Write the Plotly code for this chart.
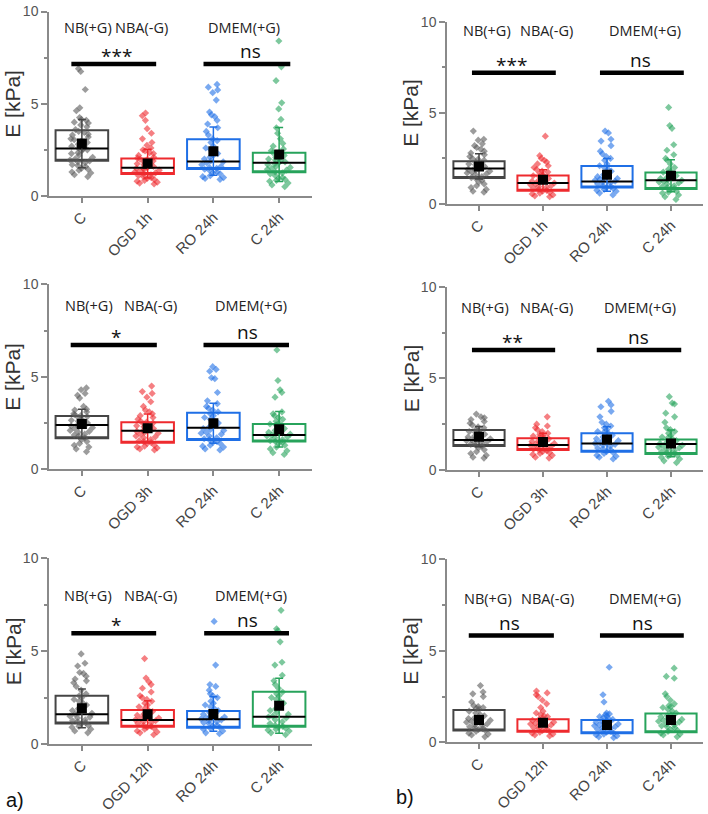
import plotly.graph_objects as go

# ---------------- data ----------------
CATS_1 = ["C", "OGD 1h", "RO 24h", "C 24h"]
CATS_2 = ["C", "OGD 3h", "RO 24h", "C 24h"]
CATS_3 = ["C", "OGD 12h", "RO 24h", "C 24h"]
Y_TICKS = [0, 5, 10]
GROUP_LABELS = ["NB(+G)", "NBA(-G)", "DMEM(+G)"]
SIG_PAIRS = [(0, 1), (2, 3)]

# panel a) row 1
a1_q1 = [1.91, 1.19, 1.47, 1.29]
a1_median = [2.57, 1.53, 1.87, 1.80]
a1_q3 = [3.56, 2.03, 3.08, 2.34]
a1_mean = [2.84, 1.76, 2.43, 2.25]
a1_sd = [1.31, 0.78, 1.31, 1.46]
a1_sig = ["***", "ns"]
a1_C = [6.9, 6.75, 5.77, 4.78, 4.62, 4.25, 4.15, 4.1, 4.0, 3.95, 3.85, 3.75, 3.6, 3.5, 3.45, 3.35,
        3.3, 3.2, 3.1, 3.05, 2.95, 2.9, 2.8, 2.75, 2.7, 2.6, 2.55, 2.5, 2.45, 2.35, 2.3, 2.2, 2.1,
        2.0, 1.95, 1.9, 1.85, 1.8, 1.7, 1.65, 1.6, 1.5, 1.45, 1.4, 1.3, 1.25, 1.15, 1.05]
a1_OGD = [4.5, 4.35, 4.1, 3.65, 3.4, 3.1, 2.9, 2.75, 2.6, 2.5, 2.45, 2.35, 2.3, 2.2, 2.1, 2.05, 2.0,
          1.95, 1.9, 1.85, 1.8, 1.75, 1.7, 1.65, 1.6, 1.55, 1.5, 1.5, 1.45, 1.4, 1.35, 1.3, 1.25,
          1.2, 1.15, 1.1, 1.05, 1.0, 0.95, 0.9, 0.85, 0.8, 0.75, 0.7, 0.65]
a1_RO = [6.05, 5.9, 5.75, 5.6, 5.2, 4.55, 4.4, 4.3, 4.1, 3.9, 3.7, 3.5, 3.3, 3.1, 3.0, 2.9, 2.7,
         2.6, 2.5, 2.4, 2.3, 2.2, 2.1, 2.0, 1.9, 1.85, 1.8, 1.7, 1.6, 1.55, 1.5, 1.45, 1.4, 1.3,
         1.25, 1.2, 1.1, 1.05, 1.0, 0.95, 0.9]
a1_C24 = [8.4, 7.0, 6.25, 5.05, 4.72, 4.15, 3.7, 3.4, 3.1, 2.85, 2.7, 2.55, 2.45, 2.35, 2.25, 2.2,
          2.1, 2.05, 2.0, 1.95, 1.9, 1.85, 1.8, 1.75, 1.7, 1.6, 1.55, 1.5, 1.45, 1.4, 1.3, 1.25,
          1.2, 1.1, 1.0, 0.95, 0.9, 0.85, 0.8, 0.7, 0.6, 0.5]

# panel a) row 2
a2_q1 = [1.68, 1.44, 1.59, 1.50]
a2_median = [2.40, 2.09, 2.25, 1.86]
a2_q3 = [2.88, 2.54, 3.06, 2.45]
a2_mean = [2.45, 2.22, 2.49, 2.16]
a2_sd = [0.79, 0.77, 1.08, 0.96]
a2_sig = ["*", "ns"]
a2_C = [4.4, 4.3, 4.1, 4.0, 3.85, 3.4, 3.25, 3.2, 3.1, 3.0, 2.95, 2.9, 2.85, 2.8, 2.7, 2.65, 2.6,
        2.55, 2.5, 2.45, 2.4, 2.35, 2.3, 2.25, 2.2, 2.1, 2.05, 2.0, 1.9, 1.85, 1.8, 1.7, 1.6, 1.5,
        1.4, 1.3, 1.2, 1.1, 0.95]
a2_OGD = [4.5, 4.2, 4.1, 3.9, 3.65, 3.4, 3.2, 3.1, 3.0, 2.9, 2.8, 2.7, 2.6, 2.55, 2.5, 2.45, 2.4,
          2.35, 2.3, 2.25, 2.2, 2.15, 2.1, 2.05, 2.0, 1.95, 1.9, 1.8, 1.75, 1.7, 1.6, 1.55, 1.5,
          1.45, 1.4, 1.3, 1.25, 1.2, 1.15, 1.1, 1.05]
a2_RO = [5.55, 5.4, 5.3, 4.95, 4.9, 4.15, 3.7, 3.55, 3.4, 3.3, 3.2, 3.1, 3.0, 2.9, 2.8, 2.7, 2.6,
         2.5, 2.4, 2.3, 2.2, 2.15, 2.1, 2.0, 1.95, 1.9, 1.8, 1.7, 1.65, 1.6, 1.5, 1.45, 1.4, 1.3,
         1.25, 1.2, 1.1, 1.05]
a2_C24 = [6.45, 4.8, 4.3, 4.15, 3.9, 3.1, 3.0, 2.9, 2.8, 2.7, 2.6, 2.5, 2.45, 2.4, 2.3, 2.2, 2.15,
          2.1, 2.0, 1.95, 1.9, 1.85, 1.8, 1.75, 1.7, 1.6, 1.55, 1.5, 1.45, 1.4, 1.3, 1.2, 1.1, 1.0,
          0.9, 0.8]

# panel a) row 3
a3_q1 = [1.11, 0.93, 0.88, 0.93]
a3_median = [1.60, 1.29, 1.33, 1.47]
a3_q3 = [2.60, 1.83, 1.78, 2.82]
a3_mean = [1.92, 1.60, 1.62, 2.06]
a3_sd = [1.04, 0.73, 0.93, 1.48]
a3_sig = ["*", "ns"]
a3_C = [4.85, 4.35, 4.2, 3.85, 3.8, 3.65, 3.5, 3.4, 3.3, 3.1, 2.9, 2.7, 2.6, 2.5, 2.4, 2.3, 2.2,
        2.1, 2.0, 1.9, 1.8, 1.7, 1.65, 1.6, 1.5, 1.45, 1.4, 1.3, 1.25, 1.2, 1.15, 1.1, 1.0, 0.95,
        0.9, 0.8, 0.7, 0.6]
a3_OGD = [4.6, 3.55, 3.35, 3.2, 3.0, 2.8, 2.6, 2.5, 2.4, 2.3, 2.2, 2.1, 2.0, 1.9, 1.8, 1.75, 1.7,
          1.6, 1.55, 1.5, 1.4, 1.35, 1.3, 1.25, 1.2, 1.15, 1.1, 1.0, 0.95, 0.9, 0.85, 0.8, 0.7,
          0.65, 0.6, 0.5]
a3_RO = [6.6, 4.25, 3.2, 3.1, 2.9, 2.7, 2.6, 2.5, 2.3, 2.2, 2.1, 2.0, 1.9, 1.8, 1.75, 1.7, 1.6,
         1.5, 1.45, 1.4, 1.35, 1.3, 1.25, 1.2, 1.15, 1.1, 1.0, 0.95, 0.9, 0.85, 0.8, 0.7, 0.6, 0.55]
a3_C24 = [7.2, 6.2, 6.1, 5.5, 4.4, 4.25, 3.7, 3.4, 3.2, 3.0, 2.8, 2.7, 2.6, 2.5, 2.4, 2.3, 2.2,
          2.0, 1.9, 1.8, 1.7, 1.6, 1.5, 1.45, 1.4, 1.3, 1.2, 1.1, 1.0, 0.95, 0.9, 0.85, 0.8, 0.75,
          0.7, 0.6, 0.5]

# panel b) row 1
b1_q1 = [1.42, 0.73, 0.91, 0.82]
b1_median = [1.95, 1.15, 1.24, 1.30]
b1_q3 = [2.35, 1.57, 2.08, 1.73]
b1_mean = [2.06, 1.33, 1.60, 1.55]
b1_sd = [0.69, 0.55, 0.90, 0.88]
b1_sig = ["***", "ns"]
b1_C = [4.0, 3.55, 3.5, 3.3, 3.2, 3.1, 3.0, 2.9, 2.8, 2.7, 2.6, 2.5, 2.45, 2.4, 2.3, 2.25, 2.2,
        2.15, 2.1, 2.05, 2.0, 1.95, 1.9, 1.85, 1.8, 1.75, 1.7, 1.65, 1.6, 1.5, 1.45, 1.4, 1.3, 1.2,
        1.1, 1.0, 0.9, 0.8, 0.7, 0.65]
b1_OGD = [3.72, 2.65, 2.5, 2.4, 2.3, 2.2, 2.1, 2.0, 1.9, 1.8, 1.75, 1.7, 1.6, 1.55, 1.5, 1.45, 1.4,
          1.35, 1.3, 1.25, 1.2, 1.15, 1.1, 1.05, 1.0, 0.95, 0.9, 0.85, 0.8, 0.75, 0.7, 0.65, 0.6,
          0.55, 0.5, 0.45, 0.4]
b1_RO = [4.0, 3.9, 3.55, 3.45, 3.2, 2.9, 2.75, 2.6, 2.5, 2.4, 2.2, 2.1, 2.0, 1.9, 1.8, 1.7, 1.6,
         1.5, 1.45, 1.4, 1.35, 1.3, 1.25, 1.2, 1.15, 1.1, 1.0, 0.95, 0.9, 0.85, 0.8, 0.75, 0.7,
         0.6, 0.5]
b1_C24 = [5.3, 4.3, 4.15, 3.25, 2.95, 2.7, 2.5, 2.4, 2.2, 2.0, 1.9, 1.8, 1.75, 1.7, 1.6, 1.55, 1.5,
          1.45, 1.4, 1.35, 1.3, 1.25, 1.2, 1.15, 1.1, 1.0, 0.95, 0.9, 0.85, 0.8, 0.7, 0.65, 0.6,
          0.5, 0.4, 0.25]

# panel b) row 2
b2_q1 = [1.31, 1.09, 1.00, 0.87]
b2_median = [1.64, 1.36, 1.45, 1.42]
b2_q3 = [2.18, 1.73, 2.00, 1.67]
b2_mean = [1.82, 1.53, 1.67, 1.45]
b2_sd = [0.55, 0.47, 0.69, 0.73]
b2_sig = ["**", "ns"]
b2_C = [3.05, 2.9, 2.85, 2.75, 2.65, 2.55, 2.45, 2.35, 2.3, 2.2, 2.15, 2.1, 2.05, 2.0, 1.95, 1.9,
        1.85, 1.8, 1.75, 1.7, 1.65, 1.6, 1.55, 1.5, 1.45, 1.4, 1.35, 1.3, 1.2, 1.1, 1.0, 0.9, 0.8,
        0.7, 0.65]
b2_OGD = [2.9, 2.5, 2.4, 2.3, 2.2, 2.1, 2.0, 1.95, 1.9, 1.85, 1.8, 1.75, 1.7, 1.65, 1.6, 1.55, 1.5,
          1.45, 1.4, 1.35, 1.3, 1.25, 1.2, 1.15, 1.1, 1.05, 1.0, 0.95, 0.9, 0.85, 0.8, 0.7, 0.65]
b2_RO = [3.75, 3.55, 3.45, 3.2, 2.9, 2.6, 2.5, 2.4, 2.3, 2.2, 2.1, 2.05, 2.0, 1.9, 1.85, 1.8, 1.7,
         1.65, 1.6, 1.5, 1.45, 1.4, 1.35, 1.3, 1.2, 1.15, 1.1, 1.0, 0.95, 0.9, 0.8, 0.75, 0.7, 0.6]
b2_C24 = [4.0, 3.65, 3.6, 3.1, 2.9, 2.6, 2.3, 2.2, 2.1, 2.0, 1.9, 1.8, 1.75, 1.7, 1.6, 1.55, 1.5,
          1.45, 1.4, 1.35, 1.3, 1.25, 1.2, 1.1, 1.05, 1.0, 0.95, 0.9, 0.85, 0.8, 0.75, 0.7, 0.6,
          0.5, 0.4]

# panel b) row 3 (no median line / SD whiskers visible)
b3_q1 = [0.64, 0.58, 0.49, 0.55]
b3_median = [None, None, None, None]
b3_q3 = [1.77, 1.26, 1.22, 1.58]
b3_mean = [1.22, 1.07, 0.95, 1.22]
b3_sd = [None, None, None, None]
b3_sig = ["ns", "ns"]
b3_C = [3.1, 2.75, 2.65, 2.5, 2.2, 2.0, 1.95, 1.9, 1.85, 1.8, 1.7, 1.6, 1.5, 1.45, 1.4, 1.35, 1.3,
        1.25, 1.2, 1.15, 1.1, 1.0, 0.95, 0.9, 0.85, 0.8, 0.75, 0.7, 0.65, 0.6, 0.5, 0.45, 0.4, 0.3]
b3_OGD = [2.8, 2.7, 2.6, 2.5, 2.3, 2.1, 1.9, 1.7, 1.6, 1.5, 1.45, 1.4, 1.3, 1.25, 1.2, 1.15, 1.1,
          1.05, 1.0, 0.95, 0.9, 0.85, 0.8, 0.75, 0.7, 0.65, 0.6, 0.55, 0.5, 0.45, 0.4, 0.35]
b3_RO = [4.1, 2.6, 2.2, 1.6, 1.55, 1.5, 1.45, 1.4, 1.35, 1.3, 1.25, 1.2, 1.15, 1.1, 1.05, 1.0, 0.95,
         0.9, 0.85, 0.8, 0.75, 0.7, 0.65, 0.6, 0.55, 0.5, 0.45, 0.4, 0.35, 0.3, 0.25]
b3_C24 = [4.05, 3.6, 3.5, 2.65, 2.5, 2.3, 2.1, 2.0, 1.95, 1.9, 1.8, 1.7, 1.6, 1.5, 1.45, 1.4, 1.3,
          1.25, 1.2, 1.15, 1.1, 1.0, 0.95, 0.9, 0.85, 0.8, 0.7, 0.65, 0.6, 0.5, 0.45, 0.4, 0.3]

# ---------------- styles / layout positions ----------------
BOX_COLORS = ["#454545", "#ee2a2e", "#1f6fe6", "#27a35b"]
PT_COLORS = ["rgba(90,90,90,0.6)", "rgba(238,42,46,0.6)", "rgba(31,111,230,0.6)", "rgba(39,163,91,0.6)"]
AX_COLOR = "#8a8a8a"
TXT_FONT = "Open Sans, Noto Sans, sans-serif"
AX_FONT = "Liberation Sans, Arial, sans-serif"
W, H = 708, 814

XDOM_A = [49 / W, 312 / W]
XDOM_B = [447 / W, 703 / W]


def ydom(top_px, bot_px):
    return [1 - bot_px / H, 1 - top_px / H]


panels = [
    dict(cats=CATS_1, q1=a1_q1, med=a1_median, q3=a1_q3, mean=a1_mean, sd=a1_sd, sig=a1_sig,
         pts=[a1_C, a1_OGD, a1_RO, a1_C24], xdom=XDOM_A, ydom=ydom(11.5, 196),
         lab_y=9.15, lab_x=[0.1, 0.9, 2.47], sig_y=7.16, sig_x=[0.53, 2.57],
         bars=[(-0.16, 0.13), (-0.15, 0.17)]),
    dict(cats=CATS_2, q1=a2_q1, med=a2_median, q3=a2_q3, mean=a2_mean, sd=a2_sd, sig=a2_sig,
         pts=[a2_C, a2_OGD, a2_RO, a2_C24], xdom=XDOM_A, ydom=ydom(284.3, 469.3),
         lab_y=8.88, lab_x=[0.11, 1.05, 2.57], sig_y=6.72, sig_x=[0.52, 2.52],
         bars=[(-0.17, 0.14), (-0.15, 0.15)]),
    dict(cats=CATS_3, q1=a3_q1, med=a3_median, q3=a3_q3, mean=a3_mean, sd=a3_sd, sig=a3_sig,
         pts=[a3_C, a3_OGD, a3_RO, a3_C24], xdom=XDOM_A, ydom=ydom(558.3, 744),
         lab_y=8.02, lab_x=[0.1, 1.04, 2.57], sig_y=5.96, sig_x=[0.52, 2.52],
         bars=[(-0.16, 0.13), (-0.14, 0.15)]),
    dict(cats=CATS_1, q1=b1_q1, med=b1_median, q3=b1_q3, mean=b1_mean, sd=b1_sd, sig=b1_sig,
         pts=[b1_C, b1_OGD, b1_RO, b1_C24], xdom=XDOM_B, ydom=ydom(21.7, 204),
         lab_y=9.5, lab_x=[0.13, 1.06, 2.59], sig_y=7.2, sig_x=[0.5, 2.53],
         bars=[(-0.11, 0.2), (-0.11, 0.2)]),
    dict(cats=CATS_2, q1=b2_q1, med=b2_median, q3=b2_q3, mean=b2_mean, sd=b2_sd, sig=b2_sig,
         pts=[b2_C, b2_OGD, b2_RO, b2_C24], xdom=XDOM_B, ydom=ydom(286.7, 470),
         lab_y=8.87, lab_x=[0.1, 1.05, 2.52], sig_y=6.55, sig_x=[0.53, 2.49],
         bars=[(-0.11, 0.19), (-0.16, 0.16)]),
    dict(cats=CATS_3, q1=b3_q1, med=b3_median, q3=b3_q3, mean=b3_mean, sd=b3_sd, sig=b3_sig,
         pts=[b3_C, b3_OGD, b3_RO, b3_C24], xdom=XDOM_B, ydom=ydom(559.3, 742.3),
         lab_y=7.87, lab_x=[0.14, 1.07, 2.6], sig_y=5.83, sig_x=[0.48, 2.56],
         bars=[(-0.16, 0.17), (-0.11, 0.2)]),
]

fig = go.Figure()
layout = dict(
    width=W, height=H, margin=dict(l=0, r=0, t=0, b=0, autoexpand=False),
    paper_bgcolor="white", plot_bgcolor="white", showlegend=False,
    boxmode="overlay", shapes=[], annotations=[],
)

for k, p in enumerate(panels, start=1):
    xa, ya = f"x{k}", f"y{k}"
    for g in range(4):
        fig.add_trace(go.Box(
            x=[g], q1=[p["q1"][g]], median=[p["q1"][g]], q3=[p["q3"][g]],
            width=0.8, whiskerwidth=0, boxpoints=False,
            line=dict(color=BOX_COLORS[g], width=2), fillcolor="rgba(255,255,255,0)",
            xaxis=xa, yaxis=ya, hoverinfo="skip"))
    for g in range(4):
        vals = p["pts"][g]
        fig.add_trace(go.Box(
            x=[g] * len(vals), y=vals, width=0.8, boxpoints="all", jitter=0.5, pointpos=0,
            whiskerwidth=0, line=dict(width=0, color="rgba(0,0,0,0)"),
            fillcolor="rgba(0,0,0,0)",
            marker=dict(symbol="diamond", size=5.5, color=PT_COLORS[g], line=dict(width=0)),
            xaxis=xa, yaxis=ya, hoverinfo="y"))
    for g in range(4):
        m = p["med"][g]
        if m is not None:
            fig.add_trace(go.Box(
                x=[g], q1=[m], median=[m], q3=[m], width=0.8, whiskerwidth=0, boxpoints=False,
                line=dict(color="black", width=2), fillcolor="rgba(0,0,0,0)",
                xaxis=xa, yaxis=ya, hoverinfo="skip"))
    for g in range(4):
        sd = p["sd"][g]
        fig.add_trace(go.Scatter(
            x=[g], y=[p["mean"][g]], mode="markers",
            marker=dict(symbol="square", size=10, color="black"),
            error_y=dict(type="data", array=[sd if sd is not None else 0],
                         visible=sd is not None, color=BOX_COLORS[g], thickness=1.5, width=4),
            xaxis=xa, yaxis=ya))

    layout[f"xaxis{k}"] = dict(
        domain=p["xdom"], anchor=ya, range=[-0.5, 3.5], tickmode="array",
        tickvals=[0, 1, 2, 3], ticktext=p["cats"], tickangle=-45,
        ticks="outside", ticklen=5, tickwidth=1.5, tickcolor=AX_COLOR,
        showline=True, linecolor=AX_COLOR, linewidth=1.5, showgrid=False, zeroline=False,
        automargin=False,
        tickfont=dict(family=AX_FONT, size=15, color="#444"), fixedrange=True)
    layout[f"yaxis{k}"] = dict(
        domain=p["ydom"], anchor=xa, range=[0, 10], tickmode="array", tickvals=Y_TICKS,
        ticks="outside", ticklen=6, tickwidth=1.5, tickcolor=AX_COLOR,
        minor=dict(tickvals=[2.5, 7.5], ticks="outside", ticklen=3, tickwidth=1.5,
                   tickcolor=AX_COLOR, showgrid=False),
        showline=True, linecolor=AX_COLOR, linewidth=1.5, showgrid=False, zeroline=False,
        automargin=False,
        tickfont=dict(family=AX_FONT, size=14, color="#555"), fixedrange=True)

    layout["annotations"].append(dict(
        text="E [kPa]", xref="paper", yref="paper", x=p["xdom"][0],
        y=(p["ydom"][0] + p["ydom"][1]) / 2, xshift=-36, textangle=-90,
        showarrow=False, xanchor="center", yanchor="middle",
        font=dict(family=AX_FONT, size=21, color="#333")))
    for txt, lx in zip(GROUP_LABELS, p["lab_x"]):
        layout["annotations"].append(dict(
            text=txt, xref=xa, yref=ya, x=lx, y=p["lab_y"], showarrow=False,
            xanchor="center", yanchor="middle",
            font=dict(family=TXT_FONT, size=14.5, color="#222")))
    for s, sx, pair, (o0, o1) in zip(p["sig"], p["sig_x"], SIG_PAIRS, p["bars"]):
        layout["annotations"].append(dict(
            text=s, xref=xa, yref=ya, x=sx, y=p["sig_y"], showarrow=False,
            xanchor="center", yanchor="bottom", yshift=-7 if "*" in s else -2,
            font=dict(family=TXT_FONT, size=19, color="#111")))
        layout["shapes"].append(dict(
            type="line", xref=xa, yref=ya, x0=pair[0] + o0, x1=pair[1] + o1,
            y0=p["sig_y"], y1=p["sig_y"], line=dict(color="black", width=4.5), layer="above"))

layout["annotations"].append(dict(
    text="a)", xref="paper", yref="paper", x=15 / W, y=1 - 800 / H, showarrow=False,
    xanchor="center", yanchor="middle", font=dict(family=AX_FONT, size=20, color="#111")))
layout["annotations"].append(dict(
    text="b)", xref="paper", yref="paper", x=405 / W, y=1 - 797 / H, showarrow=False,
    xanchor="center", yanchor="middle", font=dict(family=AX_FONT, size=20, color="#111")))

fig.update_layout(**layout)
fig.write_html("out.html", config={"displayModeBar": False},
               post_script="document.body.style.margin='0px';")
